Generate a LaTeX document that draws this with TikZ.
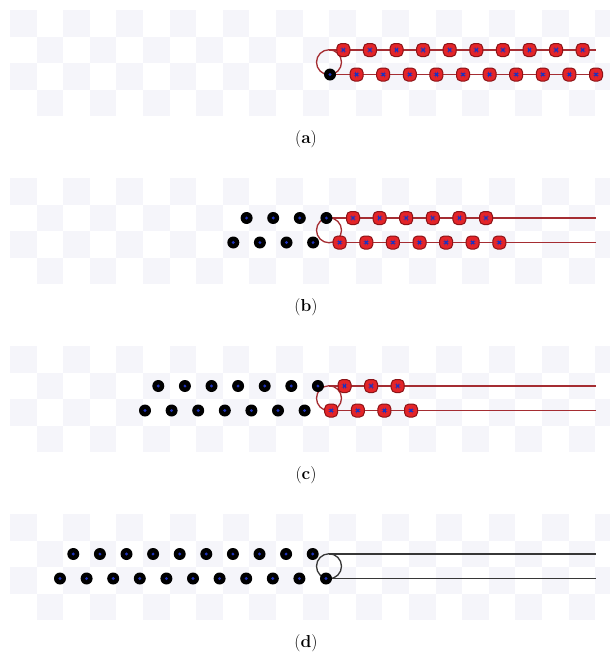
\documentclass[tikz,border=0pt]{standalone}
\usepackage{xcolor}
\usepackage{tikz}
\usetikzlibrary{positioning}

\begin{document}
\begin{tikzpicture}[x=1pt,y=-1pt,font=\LARGE]
  \definecolor{cChk}{RGB}{245,245,250}
  \definecolor{cRed}{RGB}{228,36,40}
  \definecolor{cRim}{RGB}{140,20,24}
  \definecolor{cStr}{RGB}{165,45,50}
  \definecolor{cGry}{RGB}{55,55,55}
  \definecolor{cBlu}{RGB}{30,50,190}
  \tikzset{
    bead/.style={circle,fill=black,minimum size=12pt,inner sep=0pt,
      path picture={\fill[cBlu] (path picture bounding box.center) circle (1.6pt);}},
    rbead/.style={rectangle,rounded corners=4.5pt,fill=cRed,draw=cRim,line width=1pt,
      minimum size=13pt,inner sep=0pt,
      path picture={\fill[cBlu] ([shift={(-1.4pt,-1.4pt)}]path picture bounding box.center)
        rectangle ([shift={(1.4pt,1.4pt)}]path picture bounding box.center);}},
    strand/.style={line width=1.8pt},
    hairpin/.style={circle,draw,line width=1.3pt,minimum size=25pt,inner sep=0pt},
  }
  \useasboundingbox (0,0) rectangle (610,654);
  \foreach \p/\yy/\bx/\nb/\nt/\sc in {a/50/330/1/0/cStr,b/218/233.3/4/4/cStr,
      c/386/145/7/7/cStr,d/554/60/11/10/cGry}{
    % checker background
    \begin{scope}
      \clip (10,\yy-40) rectangle (610,\yy+66.4);
      \foreach \i in {0,...,3}{
        \foreach \j in {0,...,22}{
          \pgfmathtruncatemacro{\odd}{mod(\i+\j,2)}
          \ifnum\odd=0
            \fill[cChk] (10+26.6*\j,\yy-40+26.6*\i) rectangle ++(26.6,26.6);
          \fi
        }
      }
    \end{scope}
    % strands and loop
    \coordinate (\p-tl) at (329,\yy);
    \coordinate (\p-tr) at (596,\yy);
    \coordinate (\p-bl) at (329,\yy+24.5);
    \coordinate (\p-br) at (596,\yy+24.5);
    \draw[strand,draw=\sc] (\p-tl) -- (\p-tr);
    \draw[strand,draw=\sc] (\p-bl) -- (\p-br);
    \node[hairpin,draw=\sc] (\p-loop) at (329,\yy+12.25) {};
    % beads
    \foreach \k in {0,...,10}{
      \ifnum\k<\nb\relax
        \node[bead] (\p-b\k) at (\bx+26.6*\k,\yy+24.5) {};
      \else
        \node[rbead] (\p-b\k) at (\bx+26.6*\k,\yy+24.5) {};
      \fi
    }
    \foreach \k in {0,...,9}{
      \ifnum\k<\nt\relax
        \node[bead] (\p-t\k) at (\bx+13.3+26.6*\k,\yy) {};
      \else
        \node[rbead] (\p-t\k) at (\bx+13.3+26.6*\k,\yy) {};
      \fi
    }
    \node (\p-lab) at (306,\yy+89) {(\textbf{\p})};
  }
\end{tikzpicture}
\end{document}
